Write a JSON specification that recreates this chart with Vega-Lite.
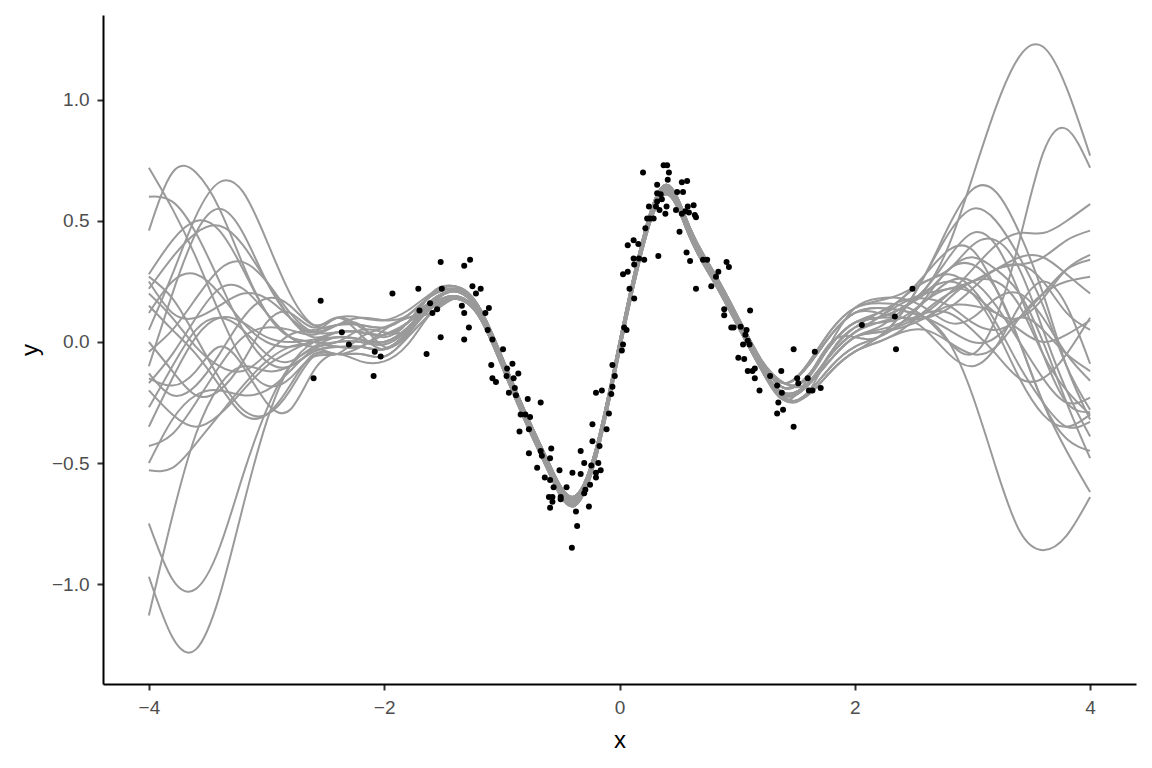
{
"$schema":"https://vega.github.io/schema/vega-lite/v6.json",
"width":1033,"height":669,
"autosize":{"type":"none"},
"padding":{"left":103,"top":15,"right":16,"bottom":84},
"background":"white",
"config":{"view":{"stroke":null},"axis":{"grid":false,"domainColor":"black","domainWidth":2,"tickColor":"#333333","tickSize":6,"tickWidth":2,"labelColor":"#4d4d4d","labelFont":"Liberation Sans","labelFontSize":19,"labelPadding":8,"titleFont":"Liberation Sans","titleFontSize":24,"titleFontWeight":"normal","titleColor":"black"}},
"datasets":{
"curves":[
{"s":1,"x":-4,"y":0.72},{"s":1,"x":-3.8,"y":0.55},{"s":1,"x":-3.6,"y":0.35},{"s":1,"x":-3.4,"y":0.12},{"s":1,"x":-3.2,"y":-0.08},{"s":1,"x":-3,"y":-0.18},{"s":1,"x":-2.8,"y":-0.15},{"s":1,"x":-2.6,"y":-0.06},{"s":1,"x":-2.4,"y":-0.05},{"s":1,"x":-2.2,"y":0.02},{"s":1,"x":-2,"y":0.06},{"s":1,"x":-1.8,"y":0.1},{"s":1,"x":-1.6,"y":0.12},{"s":1,"x":-1.4,"y":0.18},{"s":1,"x":-1.2,"y":0.12},{"s":1,"x":-1,"y":-0.07},{"s":1,"x":-0.8,"y":-0.3},{"s":1,"x":-0.6,"y":-0.51},{"s":1,"x":-0.4,"y":-0.65},{"s":1,"x":-0.2,"y":-0.45},{"s":1,"x":0,"y":-0.01},{"s":1,"x":0.2,"y":0.42},{"s":1,"x":0.4,"y":0.64},{"s":1,"x":0.6,"y":0.46},{"s":1,"x":0.8,"y":0.28},{"s":1,"x":1,"y":0.1},{"s":1,"x":1.2,"y":-0.08},{"s":1,"x":1.4,"y":-0.19},{"s":1,"x":1.6,"y":-0.14},{"s":1,"x":1.8,"y":-0.01},{"s":1,"x":2,"y":0.08},{"s":1,"x":2.2,"y":0.1},{"s":1,"x":2.4,"y":0.14},{"s":1,"x":2.6,"y":0.22},{"s":1,"x":2.8,"y":0.4},{"s":1,"x":3,"y":0.68},{"s":1,"x":3.2,"y":0.97},{"s":1,"x":3.4,"y":1.18},{"s":1,"x":3.6,"y":1.22},{"s":1,"x":3.8,"y":1.05},{"s":1,"x":4,"y":0.77},
{"s":2,"x":-4,"y":0.46},{"s":2,"x":-3.8,"y":0.7},{"s":2,"x":-3.6,"y":0.7},{"s":2,"x":-3.4,"y":0.55},{"s":2,"x":-3.2,"y":0.32},{"s":2,"x":-3,"y":0.12},{"s":2,"x":-2.8,"y":0.02},{"s":2,"x":-2.6,"y":0},{"s":2,"x":-2.4,"y":0},{"s":2,"x":-2.2,"y":0.05},{"s":2,"x":-2,"y":0.04},{"s":2,"x":-1.8,"y":0.05},{"s":2,"x":-1.6,"y":0.15},{"s":2,"x":-1.4,"y":0.19},{"s":2,"x":-1.2,"y":0.12},{"s":2,"x":-1,"y":-0.09},{"s":2,"x":-0.8,"y":-0.32},{"s":2,"x":-0.6,"y":-0.53},{"s":2,"x":-0.4,"y":-0.67},{"s":2,"x":-0.2,"y":-0.47},{"s":2,"x":0,"y":-0.03},{"s":2,"x":0.2,"y":0.4},{"s":2,"x":0.4,"y":0.62},{"s":2,"x":0.6,"y":0.44},{"s":2,"x":0.8,"y":0.26},{"s":2,"x":1,"y":0.08},{"s":2,"x":1.2,"y":-0.08},{"s":2,"x":1.4,"y":-0.17},{"s":2,"x":1.6,"y":-0.09},{"s":2,"x":1.8,"y":0.05},{"s":2,"x":2,"y":0.14},{"s":2,"x":2.2,"y":0.16},{"s":2,"x":2.4,"y":0.15},{"s":2,"x":2.6,"y":0.1},{"s":2,"x":2.8,"y":0},{"s":2,"x":3,"y":-0.05},{"s":2,"x":3.2,"y":0.1},{"s":2,"x":3.4,"y":0.42},{"s":2,"x":3.6,"y":0.78},{"s":2,"x":3.8,"y":0.88},{"s":2,"x":4,"y":0.72},
{"s":3,"x":-4,"y":0.05},{"s":3,"x":-3.8,"y":0.28},{"s":3,"x":-3.6,"y":0.52},{"s":3,"x":-3.4,"y":0.66},{"s":3,"x":-3.2,"y":0.62},{"s":3,"x":-3,"y":0.42},{"s":3,"x":-2.8,"y":0.2},{"s":3,"x":-2.6,"y":0.07},{"s":3,"x":-2.4,"y":0.07},{"s":3,"x":-2.2,"y":0.07},{"s":3,"x":-2,"y":-0.02},{"s":3,"x":-1.8,"y":0.03},{"s":3,"x":-1.6,"y":0.15},{"s":3,"x":-1.4,"y":0.22},{"s":3,"x":-1.2,"y":0.15},{"s":3,"x":-1,"y":-0.06},{"s":3,"x":-0.8,"y":-0.29},{"s":3,"x":-0.6,"y":-0.5},{"s":3,"x":-0.4,"y":-0.64},{"s":3,"x":-0.2,"y":-0.44},{"s":3,"x":0,"y":0},{"s":3,"x":0.2,"y":0.43},{"s":3,"x":0.4,"y":0.65},{"s":3,"x":0.6,"y":0.47},{"s":3,"x":0.8,"y":0.29},{"s":3,"x":1,"y":0.11},{"s":3,"x":1.2,"y":-0.07},{"s":3,"x":1.4,"y":-0.17},{"s":3,"x":1.6,"y":-0.1},{"s":3,"x":1.8,"y":0.03},{"s":3,"x":2,"y":0.12},{"s":3,"x":2.2,"y":0.14},{"s":3,"x":2.4,"y":0.13},{"s":3,"x":2.6,"y":0.1},{"s":3,"x":2.8,"y":0},{"s":3,"x":3,"y":-0.22},{"s":3,"x":3.2,"y":-0.52},{"s":3,"x":3.4,"y":-0.78},{"s":3,"x":3.6,"y":-0.86},{"s":3,"x":3.8,"y":-0.8},{"s":3,"x":4,"y":-0.64},
{"s":4,"x":-4,"y":0.6},{"s":4,"x":-3.8,"y":0.58},{"s":4,"x":-3.6,"y":0.45},{"s":4,"x":-3.4,"y":0.25},{"s":4,"x":-3.2,"y":0.05},{"s":4,"x":-3,"y":-0.08},{"s":4,"x":-2.8,"y":-0.1},{"s":4,"x":-2.6,"y":-0.04},{"s":4,"x":-2.4,"y":-0.02},{"s":4,"x":-2.2,"y":-0.02},{"s":4,"x":-2,"y":-0.03},{"s":4,"x":-1.8,"y":0.04},{"s":4,"x":-1.6,"y":0.14},{"s":4,"x":-1.4,"y":0.18},{"s":4,"x":-1.2,"y":0.11},{"s":4,"x":-1,"y":-0.1},{"s":4,"x":-0.8,"y":-0.33},{"s":4,"x":-0.6,"y":-0.54},{"s":4,"x":-0.4,"y":-0.68},{"s":4,"x":-0.2,"y":-0.48},{"s":4,"x":0,"y":-0.04},{"s":4,"x":0.2,"y":0.39},{"s":4,"x":0.4,"y":0.61},{"s":4,"x":0.6,"y":0.43},{"s":4,"x":0.8,"y":0.25},{"s":4,"x":1,"y":0.07},{"s":4,"x":1.2,"y":-0.11},{"s":4,"x":1.4,"y":-0.24},{"s":4,"x":1.6,"y":-0.15},{"s":4,"x":1.8,"y":0},{"s":4,"x":2,"y":0.02},{"s":4,"x":2.2,"y":0.02},{"s":4,"x":2.4,"y":0.12},{"s":4,"x":2.6,"y":0.28},{"s":4,"x":2.8,"y":0.48},{"s":4,"x":3,"y":0.63},{"s":4,"x":3.2,"y":0.62},{"s":4,"x":3.4,"y":0.45},{"s":4,"x":3.6,"y":0.2},{"s":4,"x":3.8,"y":-0.1},{"s":4,"x":4,"y":-0.32},
{"s":5,"x":-4,"y":-0.75},{"s":5,"x":-3.8,"y":-0.98},{"s":5,"x":-3.6,"y":-1.02},{"s":5,"x":-3.4,"y":-0.85},{"s":5,"x":-3.2,"y":-0.55},{"s":5,"x":-3,"y":-0.28},{"s":5,"x":-2.8,"y":-0.1},{"s":5,"x":-2.6,"y":-0.02},{"s":5,"x":-2.4,"y":0.02},{"s":5,"x":-2.2,"y":0.01},{"s":5,"x":-2,"y":0},{"s":5,"x":-1.8,"y":0.06},{"s":5,"x":-1.6,"y":0.16},{"s":5,"x":-1.4,"y":0.21},{"s":5,"x":-1.2,"y":0.14},{"s":5,"x":-1,"y":-0.06},{"s":5,"x":-0.8,"y":-0.29},{"s":5,"x":-0.6,"y":-0.5},{"s":5,"x":-0.4,"y":-0.64},{"s":5,"x":-0.2,"y":-0.44},{"s":5,"x":0,"y":0},{"s":5,"x":0.2,"y":0.43},{"s":5,"x":0.4,"y":0.65},{"s":5,"x":0.6,"y":0.47},{"s":5,"x":0.8,"y":0.28},{"s":5,"x":1,"y":0.1},{"s":5,"x":1.2,"y":-0.09},{"s":5,"x":1.4,"y":-0.23},{"s":5,"x":1.6,"y":-0.22},{"s":5,"x":1.8,"y":-0.12},{"s":5,"x":2,"y":-0.04},{"s":5,"x":2.2,"y":0.02},{"s":5,"x":2.4,"y":0.12},{"s":5,"x":2.6,"y":0.28},{"s":5,"x":2.8,"y":0.45},{"s":5,"x":3,"y":0.55},{"s":5,"x":3.2,"y":0.5},{"s":5,"x":3.4,"y":0.35},{"s":5,"x":3.6,"y":0.15},{"s":5,"x":3.8,"y":-0.1},{"s":5,"x":4,"y":-0.28},
{"s":6,"x":-4,"y":-0.97},{"s":6,"x":-3.8,"y":-1.22},{"s":6,"x":-3.6,"y":-1.27},{"s":6,"x":-3.4,"y":-1.05},{"s":6,"x":-3.2,"y":-0.68},{"s":6,"x":-3,"y":-0.33},{"s":6,"x":-2.8,"y":-0.1},{"s":6,"x":-2.6,"y":0},{"s":6,"x":-2.4,"y":0.04},{"s":6,"x":-2.2,"y":0.04},{"s":6,"x":-2,"y":0.03},{"s":6,"x":-1.8,"y":0.08},{"s":6,"x":-1.6,"y":0.17},{"s":6,"x":-1.4,"y":0.21},{"s":6,"x":-1.2,"y":0.13},{"s":6,"x":-1,"y":-0.08},{"s":6,"x":-0.8,"y":-0.31},{"s":6,"x":-0.6,"y":-0.52},{"s":6,"x":-0.4,"y":-0.66},{"s":6,"x":-0.2,"y":-0.46},{"s":6,"x":0,"y":-0.02},{"s":6,"x":0.2,"y":0.41},{"s":6,"x":0.4,"y":0.63},{"s":6,"x":0.6,"y":0.45},{"s":6,"x":0.8,"y":0.27},{"s":6,"x":1,"y":0.09},{"s":6,"x":1.2,"y":-0.09},{"s":6,"x":1.4,"y":-0.22},{"s":6,"x":1.6,"y":-0.18},{"s":6,"x":1.8,"y":-0.07},{"s":6,"x":2,"y":0.02},{"s":6,"x":2.2,"y":0.04},{"s":6,"x":2.4,"y":0.07},{"s":6,"x":2.6,"y":0.12},{"s":6,"x":2.8,"y":0.2},{"s":6,"x":3,"y":0.3},{"s":6,"x":3.2,"y":0.4},{"s":6,"x":3.4,"y":0.45},{"s":6,"x":3.6,"y":0.45},{"s":6,"x":3.8,"y":0.5},{"s":6,"x":4,"y":0.57},
{"s":7,"x":-4,"y":-1.13},{"s":7,"x":-3.8,"y":-0.72},{"s":7,"x":-3.6,"y":-0.38},{"s":7,"x":-3.4,"y":-0.18},{"s":7,"x":-3.2,"y":-0.1},{"s":7,"x":-3,"y":-0.12},{"s":7,"x":-2.8,"y":-0.1},{"s":7,"x":-2.6,"y":-0.04},{"s":7,"x":-2.4,"y":-0.02},{"s":7,"x":-2.2,"y":-0.02},{"s":7,"x":-2,"y":0.05},{"s":7,"x":-1.8,"y":0.1},{"s":7,"x":-1.6,"y":0.14},{"s":7,"x":-1.4,"y":0.18},{"s":7,"x":-1.2,"y":0.11},{"s":7,"x":-1,"y":-0.1},{"s":7,"x":-0.8,"y":-0.33},{"s":7,"x":-0.6,"y":-0.54},{"s":7,"x":-0.4,"y":-0.68},{"s":7,"x":-0.2,"y":-0.48},{"s":7,"x":0,"y":-0.04},{"s":7,"x":0.2,"y":0.39},{"s":7,"x":0.4,"y":0.61},{"s":7,"x":0.6,"y":0.43},{"s":7,"x":0.8,"y":0.25},{"s":7,"x":1,"y":0.07},{"s":7,"x":1.2,"y":-0.11},{"s":7,"x":1.4,"y":-0.24},{"s":7,"x":1.6,"y":-0.21},{"s":7,"x":1.8,"y":-0.1},{"s":7,"x":2,"y":-0.02},{"s":7,"x":2.2,"y":0.02},{"s":7,"x":2.4,"y":0.08},{"s":7,"x":2.6,"y":0.18},{"s":7,"x":2.8,"y":0.3},{"s":7,"x":3,"y":0.32},{"s":7,"x":3.2,"y":0.22},{"s":7,"x":3.4,"y":0},{"s":7,"x":3.6,"y":-0.25},{"s":7,"x":3.8,"y":-0.4},{"s":7,"x":4,"y":-0.45},
{"s":8,"x":-4,"y":0.27},{"s":8,"x":-3.8,"y":0.18},{"s":8,"x":-3.6,"y":0.02},{"s":8,"x":-3.4,"y":-0.15},{"s":8,"x":-3.2,"y":-0.28},{"s":8,"x":-3,"y":-0.3},{"s":8,"x":-2.8,"y":-0.2},{"s":8,"x":-2.6,"y":-0.06},{"s":8,"x":-2.4,"y":-0.05},{"s":8,"x":-2.2,"y":-0.05},{"s":8,"x":-2,"y":-0.06},{"s":8,"x":-1.8,"y":0.02},{"s":8,"x":-1.6,"y":0.12},{"s":8,"x":-1.4,"y":0.18},{"s":8,"x":-1.2,"y":0.12},{"s":8,"x":-1,"y":-0.07},{"s":8,"x":-0.8,"y":-0.3},{"s":8,"x":-0.6,"y":-0.51},{"s":8,"x":-0.4,"y":-0.65},{"s":8,"x":-0.2,"y":-0.45},{"s":8,"x":0,"y":-0.01},{"s":8,"x":0.2,"y":0.42},{"s":8,"x":0.4,"y":0.64},{"s":8,"x":0.6,"y":0.46},{"s":8,"x":0.8,"y":0.28},{"s":8,"x":1,"y":0.1},{"s":8,"x":1.2,"y":-0.08},{"s":8,"x":1.4,"y":-0.19},{"s":8,"x":1.6,"y":-0.14},{"s":8,"x":1.8,"y":-0.01},{"s":8,"x":2,"y":0.08},{"s":8,"x":2.2,"y":0.1},{"s":8,"x":2.4,"y":0.1},{"s":8,"x":2.6,"y":0.1},{"s":8,"x":2.8,"y":0.14},{"s":8,"x":3,"y":0.22},{"s":8,"x":3.2,"y":0.3},{"s":8,"x":3.4,"y":0.32},{"s":8,"x":3.6,"y":0.35},{"s":8,"x":3.8,"y":0.42},{"s":8,"x":4,"y":0.46},
{"s":9,"x":-4,"y":0.22},{"s":9,"x":-3.8,"y":0.35},{"s":9,"x":-3.6,"y":0.45},{"s":9,"x":-3.4,"y":0.48},{"s":9,"x":-3.2,"y":0.4},{"s":9,"x":-3,"y":0.25},{"s":9,"x":-2.8,"y":0.1},{"s":9,"x":-2.6,"y":0.02},{"s":9,"x":-2.4,"y":0.04},{"s":9,"x":-2.2,"y":0.04},{"s":9,"x":-2,"y":0.03},{"s":9,"x":-1.8,"y":0.08},{"s":9,"x":-1.6,"y":0.17},{"s":9,"x":-1.4,"y":0.21},{"s":9,"x":-1.2,"y":0.13},{"s":9,"x":-1,"y":-0.08},{"s":9,"x":-0.8,"y":-0.31},{"s":9,"x":-0.6,"y":-0.52},{"s":9,"x":-0.4,"y":-0.66},{"s":9,"x":-0.2,"y":-0.46},{"s":9,"x":0,"y":-0.02},{"s":9,"x":0.2,"y":0.41},{"s":9,"x":0.4,"y":0.63},{"s":9,"x":0.6,"y":0.45},{"s":9,"x":0.8,"y":0.27},{"s":9,"x":1,"y":0.09},{"s":9,"x":1.2,"y":-0.09},{"s":9,"x":1.4,"y":-0.22},{"s":9,"x":1.6,"y":-0.18},{"s":9,"x":1.8,"y":-0.07},{"s":9,"x":2,"y":0.02},{"s":9,"x":2.2,"y":0.06},{"s":9,"x":2.4,"y":0.13},{"s":9,"x":2.6,"y":0.21},{"s":9,"x":2.8,"y":0.25},{"s":9,"x":3,"y":0.2},{"s":9,"x":3.2,"y":0.05},{"s":9,"x":3.4,"y":-0.15},{"s":9,"x":3.6,"y":-0.3},{"s":9,"x":3.8,"y":-0.35},{"s":9,"x":4,"y":-0.3},
{"s":10,"x":-4,"y":0.2},{"s":10,"x":-3.8,"y":0.1},{"s":10,"x":-3.6,"y":-0.02},{"s":10,"x":-3.4,"y":-0.1},{"s":10,"x":-3.2,"y":-0.12},{"s":10,"x":-3,"y":-0.05},{"s":10,"x":-2.8,"y":0.03},{"s":10,"x":-2.6,"y":0.05},{"s":10,"x":-2.4,"y":0.07},{"s":10,"x":-2.2,"y":0.07},{"s":10,"x":-2,"y":0.06},{"s":10,"x":-1.8,"y":0.11},{"s":10,"x":-1.6,"y":0.19},{"s":10,"x":-1.4,"y":0.22},{"s":10,"x":-1.2,"y":0.15},{"s":10,"x":-1,"y":-0.06},{"s":10,"x":-0.8,"y":-0.29},{"s":10,"x":-0.6,"y":-0.5},{"s":10,"x":-0.4,"y":-0.64},{"s":10,"x":-0.2,"y":-0.44},{"s":10,"x":0,"y":0},{"s":10,"x":0.2,"y":0.43},{"s":10,"x":0.4,"y":0.65},{"s":10,"x":0.6,"y":0.47},{"s":10,"x":0.8,"y":0.29},{"s":10,"x":1,"y":0.11},{"s":10,"x":1.2,"y":-0.07},{"s":10,"x":1.4,"y":-0.17},{"s":10,"x":1.6,"y":-0.17},{"s":10,"x":1.8,"y":-0.04},{"s":10,"x":2,"y":0.06},{"s":10,"x":2.2,"y":0.12},{"s":10,"x":2.4,"y":0.17},{"s":10,"x":2.6,"y":0.18},{"s":10,"x":2.8,"y":0.15},{"s":10,"x":3,"y":0.08},{"s":10,"x":3.2,"y":0.05},{"s":10,"x":3.4,"y":0.1},{"s":10,"x":3.6,"y":0.2},{"s":10,"x":3.8,"y":0.3},{"s":10,"x":4,"y":0.34},
{"s":11,"x":-4,"y":0.12},{"s":11,"x":-3.8,"y":0.25},{"s":11,"x":-3.6,"y":0.28},{"s":11,"x":-3.4,"y":0.2},{"s":11,"x":-3.2,"y":0.08},{"s":11,"x":-3,"y":0},{"s":11,"x":-2.8,"y":-0.02},{"s":11,"x":-2.6,"y":0},{"s":11,"x":-2.4,"y":0.02},{"s":11,"x":-2.2,"y":0.01},{"s":11,"x":-2,"y":0},{"s":11,"x":-1.8,"y":0.06},{"s":11,"x":-1.6,"y":0.16},{"s":11,"x":-1.4,"y":0.21},{"s":11,"x":-1.2,"y":0.14},{"s":11,"x":-1,"y":-0.06},{"s":11,"x":-0.8,"y":-0.29},{"s":11,"x":-0.6,"y":-0.5},{"s":11,"x":-0.4,"y":-0.64},{"s":11,"x":-0.2,"y":-0.44},{"s":11,"x":0,"y":0},{"s":11,"x":0.2,"y":0.43},{"s":11,"x":0.4,"y":0.65},{"s":11,"x":0.6,"y":0.47},{"s":11,"x":0.8,"y":0.28},{"s":11,"x":1,"y":0.1},{"s":11,"x":1.2,"y":-0.09},{"s":11,"x":1.4,"y":-0.23},{"s":11,"x":1.6,"y":-0.22},{"s":11,"x":1.8,"y":-0.12},{"s":11,"x":2,"y":-0.04},{"s":11,"x":2.2,"y":0},{"s":11,"x":2.4,"y":0.04},{"s":11,"x":2.6,"y":0.05},{"s":11,"x":2.8,"y":0},{"s":11,"x":3,"y":-0.05},{"s":11,"x":3.2,"y":-0.02},{"s":11,"x":3.4,"y":0.1},{"s":11,"x":3.6,"y":0.2},{"s":11,"x":3.8,"y":0.25},{"s":11,"x":4,"y":0.27},
{"s":12,"x":-4,"y":0},{"s":12,"x":-3.8,"y":-0.12},{"s":12,"x":-3.6,"y":-0.22},{"s":12,"x":-3.4,"y":-0.2},{"s":12,"x":-3.2,"y":-0.08},{"s":12,"x":-3,"y":0.08},{"s":12,"x":-2.8,"y":0.12},{"s":12,"x":-2.6,"y":0.06},{"s":12,"x":-2.4,"y":0.1},{"s":12,"x":-2.2,"y":0.03},{"s":12,"x":-2,"y":-0.03},{"s":12,"x":-1.8,"y":0.05},{"s":12,"x":-1.6,"y":0.2},{"s":12,"x":-1.4,"y":0.23},{"s":12,"x":-1.2,"y":0.15},{"s":12,"x":-1,"y":-0.08},{"s":12,"x":-0.8,"y":-0.32},{"s":12,"x":-0.6,"y":-0.53},{"s":12,"x":-0.4,"y":-0.67},{"s":12,"x":-0.2,"y":-0.47},{"s":12,"x":0,"y":-0.03},{"s":12,"x":0.2,"y":0.4},{"s":12,"x":0.4,"y":0.62},{"s":12,"x":0.6,"y":0.44},{"s":12,"x":0.8,"y":0.26},{"s":12,"x":1,"y":0.08},{"s":12,"x":1.2,"y":-0.1},{"s":12,"x":1.4,"y":-0.21},{"s":12,"x":1.6,"y":-0.17},{"s":12,"x":1.8,"y":-0.05},{"s":12,"x":2,"y":0.04},{"s":12,"x":2.2,"y":0.1},{"s":12,"x":2.4,"y":0.18},{"s":12,"x":2.6,"y":0.25},{"s":12,"x":2.8,"y":0.3},{"s":12,"x":3,"y":0.4},{"s":12,"x":3.2,"y":0.42},{"s":12,"x":3.4,"y":0.3},{"s":12,"x":3.6,"y":0.05},{"s":12,"x":3.8,"y":-0.2},{"s":12,"x":4,"y":-0.39},
{"s":13,"x":-4,"y":-0.04},{"s":13,"x":-3.8,"y":0.05},{"s":13,"x":-3.6,"y":0.18},{"s":13,"x":-3.4,"y":0.3},{"s":13,"x":-3.2,"y":0.33},{"s":13,"x":-3,"y":0.25},{"s":13,"x":-2.8,"y":0.12},{"s":13,"x":-2.6,"y":0.04},{"s":13,"x":-2.4,"y":0.04},{"s":13,"x":-2.2,"y":0.04},{"s":13,"x":-2,"y":0.03},{"s":13,"x":-1.8,"y":0.08},{"s":13,"x":-1.6,"y":0.17},{"s":13,"x":-1.4,"y":0.21},{"s":13,"x":-1.2,"y":0.13},{"s":13,"x":-1,"y":-0.08},{"s":13,"x":-0.8,"y":-0.31},{"s":13,"x":-0.6,"y":-0.52},{"s":13,"x":-0.4,"y":-0.66},{"s":13,"x":-0.2,"y":-0.46},{"s":13,"x":0,"y":-0.02},{"s":13,"x":0.2,"y":0.41},{"s":13,"x":0.4,"y":0.63},{"s":13,"x":0.6,"y":0.45},{"s":13,"x":0.8,"y":0.27},{"s":13,"x":1,"y":0.09},{"s":13,"x":1.2,"y":-0.09},{"s":13,"x":1.4,"y":-0.22},{"s":13,"x":1.6,"y":-0.18},{"s":13,"x":1.8,"y":-0.07},{"s":13,"x":2,"y":0.02},{"s":13,"x":2.2,"y":0.04},{"s":13,"x":2.4,"y":0.06},{"s":13,"x":2.6,"y":0.1},{"s":13,"x":2.8,"y":0.15},{"s":13,"x":3,"y":0.15},{"s":13,"x":3.2,"y":0.12},{"s":13,"x":3.4,"y":0.05},{"s":13,"x":3.6,"y":0},{"s":13,"x":3.8,"y":0.03},{"s":13,"x":4,"y":0.09},
{"s":14,"x":-4,"y":-0.13},{"s":14,"x":-3.8,"y":-0.22},{"s":14,"x":-3.6,"y":-0.18},{"s":14,"x":-3.4,"y":-0.05},{"s":14,"x":-3.2,"y":0.1},{"s":14,"x":-3,"y":0.18},{"s":14,"x":-2.8,"y":0.15},{"s":14,"x":-2.6,"y":0.07},{"s":14,"x":-2.4,"y":0.1},{"s":14,"x":-2.2,"y":0.1},{"s":14,"x":-2,"y":0.09},{"s":14,"x":-1.8,"y":0.13},{"s":14,"x":-1.6,"y":0.2},{"s":14,"x":-1.4,"y":0.23},{"s":14,"x":-1.2,"y":0.15},{"s":14,"x":-1,"y":-0.08},{"s":14,"x":-0.8,"y":-0.32},{"s":14,"x":-0.6,"y":-0.53},{"s":14,"x":-0.4,"y":-0.67},{"s":14,"x":-0.2,"y":-0.47},{"s":14,"x":0,"y":-0.03},{"s":14,"x":0.2,"y":0.4},{"s":14,"x":0.4,"y":0.62},{"s":14,"x":0.6,"y":0.44},{"s":14,"x":0.8,"y":0.26},{"s":14,"x":1,"y":0.08},{"s":14,"x":1.2,"y":-0.1},{"s":14,"x":1.4,"y":-0.21},{"s":14,"x":1.6,"y":-0.17},{"s":14,"x":1.8,"y":-0.05},{"s":14,"x":2,"y":0.04},{"s":14,"x":2.2,"y":0.08},{"s":14,"x":2.4,"y":0.1},{"s":14,"x":2.6,"y":0.05},{"s":14,"x":2.8,"y":-0.05},{"s":14,"x":3,"y":-0.1},{"s":14,"x":3.2,"y":-0.02},{"s":14,"x":3.4,"y":0.15},{"s":14,"x":3.6,"y":0.25},{"s":14,"x":3.8,"y":0.15},{"s":14,"x":4,"y":-0.09},
{"s":15,"x":-4,"y":-0.17},{"s":15,"x":-3.8,"y":-0.05},{"s":15,"x":-3.6,"y":0.1},{"s":15,"x":-3.4,"y":0.22},{"s":15,"x":-3.2,"y":0.22},{"s":15,"x":-3,"y":0.12},{"s":15,"x":-2.8,"y":0.02},{"s":15,"x":-2.6,"y":-0.02},{"s":15,"x":-2.4,"y":0},{"s":15,"x":-2.2,"y":0},{"s":15,"x":-2,"y":-0.01},{"s":15,"x":-1.8,"y":0.05},{"s":15,"x":-1.6,"y":0.15},{"s":15,"x":-1.4,"y":0.19},{"s":15,"x":-1.2,"y":0.12},{"s":15,"x":-1,"y":-0.09},{"s":15,"x":-0.8,"y":-0.32},{"s":15,"x":-0.6,"y":-0.53},{"s":15,"x":-0.4,"y":-0.67},{"s":15,"x":-0.2,"y":-0.47},{"s":15,"x":0,"y":-0.03},{"s":15,"x":0.2,"y":0.4},{"s":15,"x":0.4,"y":0.62},{"s":15,"x":0.6,"y":0.44},{"s":15,"x":0.8,"y":0.26},{"s":15,"x":1,"y":0.08},{"s":15,"x":1.2,"y":-0.08},{"s":15,"x":1.4,"y":-0.17},{"s":15,"x":1.6,"y":-0.15},{"s":15,"x":1.8,"y":0},{"s":15,"x":2,"y":0.14},{"s":15,"x":2.2,"y":0.18},{"s":15,"x":2.4,"y":0.18},{"s":15,"x":2.6,"y":0.14},{"s":15,"x":2.8,"y":0.08},{"s":15,"x":3,"y":0.1},{"s":15,"x":3.2,"y":0.18},{"s":15,"x":3.4,"y":0.2},{"s":15,"x":3.6,"y":0.1},{"s":15,"x":3.8,"y":-0.05},{"s":15,"x":4,"y":-0.16},
{"s":16,"x":-4,"y":-0.2},{"s":16,"x":-3.8,"y":-0.3},{"s":16,"x":-3.6,"y":-0.35},{"s":16,"x":-3.4,"y":-0.3},{"s":16,"x":-3.2,"y":-0.2},{"s":16,"x":-3,"y":-0.1},{"s":16,"x":-2.8,"y":-0.04},{"s":16,"x":-2.6,"y":0},{"s":16,"x":-2.4,"y":-0.02},{"s":16,"x":-2.2,"y":-0.02},{"s":16,"x":-2,"y":-0.03},{"s":16,"x":-1.8,"y":0.04},{"s":16,"x":-1.6,"y":0.14},{"s":16,"x":-1.4,"y":0.18},{"s":16,"x":-1.2,"y":0.11},{"s":16,"x":-1,"y":-0.1},{"s":16,"x":-0.8,"y":-0.33},{"s":16,"x":-0.6,"y":-0.54},{"s":16,"x":-0.4,"y":-0.68},{"s":16,"x":-0.2,"y":-0.48},{"s":16,"x":0,"y":-0.04},{"s":16,"x":0.2,"y":0.39},{"s":16,"x":0.4,"y":0.61},{"s":16,"x":0.6,"y":0.43},{"s":16,"x":0.8,"y":0.25},{"s":16,"x":1,"y":0.07},{"s":16,"x":1.2,"y":-0.11},{"s":16,"x":1.4,"y":-0.24},{"s":16,"x":1.6,"y":-0.21},{"s":16,"x":1.8,"y":-0.1},{"s":16,"x":2,"y":-0.02},{"s":16,"x":2.2,"y":0.02},{"s":16,"x":2.4,"y":0.08},{"s":16,"x":2.6,"y":0.17},{"s":16,"x":2.8,"y":0.25},{"s":16,"x":3,"y":0.25},{"s":16,"x":3.2,"y":0.15},{"s":16,"x":3.4,"y":0},{"s":16,"x":3.6,"y":-0.15},{"s":16,"x":3.8,"y":-0.25},{"s":16,"x":4,"y":-0.23},
{"s":17,"x":-4,"y":-0.27},{"s":17,"x":-3.8,"y":-0.1},{"s":17,"x":-3.6,"y":0.05},{"s":17,"x":-3.4,"y":0.1},{"s":17,"x":-3.2,"y":0.05},{"s":17,"x":-3,"y":-0.05},{"s":17,"x":-2.8,"y":-0.08},{"s":17,"x":-2.6,"y":-0.03},{"s":17,"x":-2.4,"y":-0.05},{"s":17,"x":-2.2,"y":-0.02},{"s":17,"x":-2,"y":0.03},{"s":17,"x":-1.8,"y":0.08},{"s":17,"x":-1.6,"y":0.16},{"s":17,"x":-1.4,"y":0.18},{"s":17,"x":-1.2,"y":0.12},{"s":17,"x":-1,"y":-0.07},{"s":17,"x":-0.8,"y":-0.3},{"s":17,"x":-0.6,"y":-0.51},{"s":17,"x":-0.4,"y":-0.65},{"s":17,"x":-0.2,"y":-0.45},{"s":17,"x":0,"y":-0.01},{"s":17,"x":0.2,"y":0.42},{"s":17,"x":0.4,"y":0.64},{"s":17,"x":0.6,"y":0.46},{"s":17,"x":0.8,"y":0.28},{"s":17,"x":1,"y":0.1},{"s":17,"x":1.2,"y":-0.08},{"s":17,"x":1.4,"y":-0.19},{"s":17,"x":1.6,"y":-0.14},{"s":17,"x":1.8,"y":-0.01},{"s":17,"x":2,"y":0.08},{"s":17,"x":2.2,"y":0.1},{"s":17,"x":2.4,"y":0.14},{"s":17,"x":2.6,"y":0.22},{"s":17,"x":2.8,"y":0.35},{"s":17,"x":3,"y":0.45},{"s":17,"x":3.2,"y":0.4},{"s":17,"x":3.4,"y":0.2},{"s":17,"x":3.6,"y":-0.05},{"s":17,"x":3.8,"y":-0.25},{"s":17,"x":4,"y":-0.29},
{"s":18,"x":-4,"y":-0.35},{"s":18,"x":-3.8,"y":-0.15},{"s":18,"x":-3.6,"y":0.02},{"s":18,"x":-3.4,"y":0.1},{"s":18,"x":-3.2,"y":0.08},{"s":18,"x":-3,"y":0.02},{"s":18,"x":-2.8,"y":0},{"s":18,"x":-2.6,"y":0.01},{"s":18,"x":-2.4,"y":0.02},{"s":18,"x":-2.2,"y":0.01},{"s":18,"x":-2,"y":0},{"s":18,"x":-1.8,"y":0.06},{"s":18,"x":-1.6,"y":0.16},{"s":18,"x":-1.4,"y":0.21},{"s":18,"x":-1.2,"y":0.14},{"s":18,"x":-1,"y":-0.06},{"s":18,"x":-0.8,"y":-0.29},{"s":18,"x":-0.6,"y":-0.5},{"s":18,"x":-0.4,"y":-0.64},{"s":18,"x":-0.2,"y":-0.44},{"s":18,"x":0,"y":0},{"s":18,"x":0.2,"y":0.43},{"s":18,"x":0.4,"y":0.65},{"s":18,"x":0.6,"y":0.47},{"s":18,"x":0.8,"y":0.28},{"s":18,"x":1,"y":0.1},{"s":18,"x":1.2,"y":-0.09},{"s":18,"x":1.4,"y":-0.23},{"s":18,"x":1.6,"y":-0.22},{"s":18,"x":1.8,"y":-0.12},{"s":18,"x":2,"y":-0.04},{"s":18,"x":2.2,"y":0},{"s":18,"x":2.4,"y":0.05},{"s":18,"x":2.6,"y":0.13},{"s":18,"x":2.8,"y":0.2},{"s":18,"x":3,"y":0.25},{"s":18,"x":3.2,"y":0.3},{"s":18,"x":3.4,"y":0.32},{"s":18,"x":3.6,"y":0.25},{"s":18,"x":3.8,"y":0.12},{"s":18,"x":4,"y":0.05},
{"s":19,"x":-4,"y":-0.43},{"s":19,"x":-3.8,"y":-0.38},{"s":19,"x":-3.6,"y":-0.25},{"s":19,"x":-3.4,"y":-0.1},{"s":19,"x":-3.2,"y":0.02},{"s":19,"x":-3,"y":0.06},{"s":19,"x":-2.8,"y":0.05},{"s":19,"x":-2.6,"y":0.03},{"s":19,"x":-2.4,"y":0.07},{"s":19,"x":-2.2,"y":0.1},{"s":19,"x":-2,"y":0.09},{"s":19,"x":-1.8,"y":0.11},{"s":19,"x":-1.6,"y":0.19},{"s":19,"x":-1.4,"y":0.22},{"s":19,"x":-1.2,"y":0.15},{"s":19,"x":-1,"y":-0.06},{"s":19,"x":-0.8,"y":-0.29},{"s":19,"x":-0.6,"y":-0.5},{"s":19,"x":-0.4,"y":-0.64},{"s":19,"x":-0.2,"y":-0.44},{"s":19,"x":0,"y":0},{"s":19,"x":0.2,"y":0.43},{"s":19,"x":0.4,"y":0.65},{"s":19,"x":0.6,"y":0.47},{"s":19,"x":0.8,"y":0.29},{"s":19,"x":1,"y":0.11},{"s":19,"x":1.2,"y":-0.07},{"s":19,"x":1.4,"y":-0.17},{"s":19,"x":1.6,"y":-0.1},{"s":19,"x":1.8,"y":0.03},{"s":19,"x":2,"y":0.12},{"s":19,"x":2.2,"y":0.12},{"s":19,"x":2.4,"y":0.1},{"s":19,"x":2.6,"y":0.1},{"s":19,"x":2.8,"y":0.18},{"s":19,"x":3,"y":0.25},{"s":19,"x":3.2,"y":0.25},{"s":19,"x":3.4,"y":0.15},{"s":19,"x":3.6,"y":-0.05},{"s":19,"x":3.8,"y":-0.2},{"s":19,"x":4,"y":-0.3},
{"s":20,"x":-4,"y":-0.5},{"s":20,"x":-3.8,"y":-0.32},{"s":20,"x":-3.6,"y":-0.22},{"s":20,"x":-3.4,"y":-0.2},{"s":20,"x":-3.2,"y":-0.22},{"s":20,"x":-3,"y":-0.2},{"s":20,"x":-2.8,"y":-0.12},{"s":20,"x":-2.6,"y":-0.03},{"s":20,"x":-2.4,"y":0},{"s":20,"x":-2.2,"y":0},{"s":20,"x":-2,"y":-0.01},{"s":20,"x":-1.8,"y":0.05},{"s":20,"x":-1.6,"y":0.15},{"s":20,"x":-1.4,"y":0.19},{"s":20,"x":-1.2,"y":0.12},{"s":20,"x":-1,"y":-0.09},{"s":20,"x":-0.8,"y":-0.32},{"s":20,"x":-0.6,"y":-0.53},{"s":20,"x":-0.4,"y":-0.67},{"s":20,"x":-0.2,"y":-0.47},{"s":20,"x":0,"y":-0.03},{"s":20,"x":0.2,"y":0.4},{"s":20,"x":0.4,"y":0.62},{"s":20,"x":0.6,"y":0.44},{"s":20,"x":0.8,"y":0.26},{"s":20,"x":1,"y":0.08},{"s":20,"x":1.2,"y":-0.08},{"s":20,"x":1.4,"y":-0.17},{"s":20,"x":1.6,"y":-0.09},{"s":20,"x":1.8,"y":0.05},{"s":20,"x":2,"y":0.14},{"s":20,"x":2.2,"y":0.17},{"s":20,"x":2.4,"y":0.2},{"s":20,"x":2.6,"y":0.25},{"s":20,"x":2.8,"y":0.28},{"s":20,"x":3,"y":0.22},{"s":20,"x":3.2,"y":0.08},{"s":20,"x":3.4,"y":-0.1},{"s":20,"x":3.6,"y":-0.25},{"s":20,"x":3.8,"y":-0.35},{"s":20,"x":4,"y":-0.33},
{"s":21,"x":-4,"y":-0.53},{"s":21,"x":-3.8,"y":-0.52},{"s":21,"x":-3.6,"y":-0.42},{"s":21,"x":-3.4,"y":-0.3},{"s":21,"x":-3.2,"y":-0.18},{"s":21,"x":-3,"y":-0.08},{"s":21,"x":-2.8,"y":-0.02},{"s":21,"x":-2.6,"y":0},{"s":21,"x":-2.4,"y":0.04},{"s":21,"x":-2.2,"y":0.04},{"s":21,"x":-2,"y":0.03},{"s":21,"x":-1.8,"y":0.08},{"s":21,"x":-1.6,"y":0.17},{"s":21,"x":-1.4,"y":0.21},{"s":21,"x":-1.2,"y":0.13},{"s":21,"x":-1,"y":-0.08},{"s":21,"x":-0.8,"y":-0.31},{"s":21,"x":-0.6,"y":-0.52},{"s":21,"x":-0.4,"y":-0.66},{"s":21,"x":-0.2,"y":-0.46},{"s":21,"x":0,"y":-0.02},{"s":21,"x":0.2,"y":0.41},{"s":21,"x":0.4,"y":0.63},{"s":21,"x":0.6,"y":0.45},{"s":21,"x":0.8,"y":0.27},{"s":21,"x":1,"y":0.09},{"s":21,"x":1.2,"y":-0.09},{"s":21,"x":1.4,"y":-0.22},{"s":21,"x":1.6,"y":-0.18},{"s":21,"x":1.8,"y":-0.07},{"s":21,"x":2,"y":0.02},{"s":21,"x":2.2,"y":0.05},{"s":21,"x":2.4,"y":0.08},{"s":21,"x":2.6,"y":0.12},{"s":21,"x":2.8,"y":0.12},{"s":21,"x":3,"y":0.05},{"s":21,"x":3.2,"y":-0.05},{"s":21,"x":3.4,"y":-0.15},{"s":21,"x":3.6,"y":-0.15},{"s":21,"x":3.8,"y":-0.05},{"s":21,"x":4,"y":0.1},
{"s":22,"x":-4,"y":0.15},{"s":22,"x":-3.8,"y":0.05},{"s":22,"x":-3.6,"y":-0.05},{"s":22,"x":-3.4,"y":-0.18},{"s":22,"x":-3.2,"y":-0.3},{"s":22,"x":-3,"y":-0.3},{"s":22,"x":-2.8,"y":-0.18},{"s":22,"x":-2.6,"y":-0.05},{"s":22,"x":-2.4,"y":-0.05},{"s":22,"x":-2.2,"y":-0.05},{"s":22,"x":-2,"y":-0.06},{"s":22,"x":-1.8,"y":0.02},{"s":22,"x":-1.6,"y":0.12},{"s":22,"x":-1.4,"y":0.18},{"s":22,"x":-1.2,"y":0.12},{"s":22,"x":-1,"y":-0.07},{"s":22,"x":-0.8,"y":-0.3},{"s":22,"x":-0.6,"y":-0.51},{"s":22,"x":-0.4,"y":-0.65},{"s":22,"x":-0.2,"y":-0.45},{"s":22,"x":0,"y":-0.01},{"s":22,"x":0.2,"y":0.42},{"s":22,"x":0.4,"y":0.64},{"s":22,"x":0.6,"y":0.46},{"s":22,"x":0.8,"y":0.28},{"s":22,"x":1,"y":0.1},{"s":22,"x":1.2,"y":-0.08},{"s":22,"x":1.4,"y":-0.19},{"s":22,"x":1.6,"y":-0.14},{"s":22,"x":1.8,"y":-0.01},{"s":22,"x":2,"y":0.08},{"s":22,"x":2.2,"y":0.12},{"s":22,"x":2.4,"y":0.18},{"s":22,"x":2.6,"y":0.28},{"s":22,"x":2.8,"y":0.38},{"s":22,"x":3,"y":0.38},{"s":22,"x":3.2,"y":0.22},{"s":22,"x":3.4,"y":0},{"s":22,"x":3.6,"y":-0.25},{"s":22,"x":3.8,"y":-0.45},{"s":22,"x":4,"y":-0.62},
{"s":23,"x":-4,"y":0.28},{"s":23,"x":-3.8,"y":0.42},{"s":23,"x":-3.6,"y":0.5},{"s":23,"x":-3.4,"y":0.46},{"s":23,"x":-3.2,"y":0.3},{"s":23,"x":-3,"y":0.12},{"s":23,"x":-2.8,"y":0.02},{"s":23,"x":-2.6,"y":0},{"s":23,"x":-2.4,"y":-0.02},{"s":23,"x":-2.2,"y":-0.02},{"s":23,"x":-2,"y":-0.03},{"s":23,"x":-1.8,"y":0.04},{"s":23,"x":-1.6,"y":0.14},{"s":23,"x":-1.4,"y":0.18},{"s":23,"x":-1.2,"y":0.11},{"s":23,"x":-1,"y":-0.1},{"s":23,"x":-0.8,"y":-0.33},{"s":23,"x":-0.6,"y":-0.54},{"s":23,"x":-0.4,"y":-0.68},{"s":23,"x":-0.2,"y":-0.48},{"s":23,"x":0,"y":-0.04},{"s":23,"x":0.2,"y":0.39},{"s":23,"x":0.4,"y":0.61},{"s":23,"x":0.6,"y":0.43},{"s":23,"x":0.8,"y":0.25},{"s":23,"x":1,"y":0.07},{"s":23,"x":1.2,"y":-0.11},{"s":23,"x":1.4,"y":-0.24},{"s":23,"x":1.6,"y":-0.21},{"s":23,"x":1.8,"y":-0.04},{"s":23,"x":2,"y":0.06},{"s":23,"x":2.2,"y":0.08},{"s":23,"x":2.4,"y":0.1},{"s":23,"x":2.6,"y":0.17},{"s":23,"x":2.8,"y":0.22},{"s":23,"x":3,"y":0.2},{"s":23,"x":3.2,"y":0.12},{"s":23,"x":3.4,"y":0.1},{"s":23,"x":3.6,"y":0.18},{"s":23,"x":3.8,"y":0.3},{"s":23,"x":4,"y":0.36},
{"s":24,"x":-4,"y":-0.1},{"s":24,"x":-3.8,"y":0.2},{"s":24,"x":-3.6,"y":0.45},{"s":24,"x":-3.4,"y":0.55},{"s":24,"x":-3.2,"y":0.45},{"s":24,"x":-3,"y":0.25},{"s":24,"x":-2.8,"y":0.1},{"s":24,"x":-2.6,"y":0.04},{"s":24,"x":-2.4,"y":0.1},{"s":24,"x":-2.2,"y":0.06},{"s":24,"x":-2,"y":0.02},{"s":24,"x":-1.8,"y":0.08},{"s":24,"x":-1.6,"y":0.2},{"s":24,"x":-1.4,"y":0.23},{"s":24,"x":-1.2,"y":0.15},{"s":24,"x":-1,"y":-0.08},{"s":24,"x":-0.8,"y":-0.32},{"s":24,"x":-0.6,"y":-0.53},{"s":24,"x":-0.4,"y":-0.67},{"s":24,"x":-0.2,"y":-0.47},{"s":24,"x":0,"y":-0.03},{"s":24,"x":0.2,"y":0.4},{"s":24,"x":0.4,"y":0.62},{"s":24,"x":0.6,"y":0.44},{"s":24,"x":0.8,"y":0.26},{"s":24,"x":1,"y":0.08},{"s":24,"x":1.2,"y":-0.1},{"s":24,"x":1.4,"y":-0.21},{"s":24,"x":1.6,"y":-0.17},{"s":24,"x":1.8,"y":-0.05},{"s":24,"x":2,"y":0.04},{"s":24,"x":2.2,"y":0.1},{"s":24,"x":2.4,"y":0.16},{"s":24,"x":2.6,"y":0.2},{"s":24,"x":2.8,"y":0.22},{"s":24,"x":3,"y":0.25},{"s":24,"x":3.2,"y":0.3},{"s":24,"x":3.4,"y":0.35},{"s":24,"x":3.6,"y":0.35},{"s":24,"x":3.8,"y":0.28},{"s":24,"x":4,"y":0.2},
{"s":25,"x":-4,"y":0.25},{"s":25,"x":-3.8,"y":0.12},{"s":25,"x":-3.6,"y":0.1},{"s":25,"x":-3.4,"y":0.15},{"s":25,"x":-3.2,"y":0.2},{"s":25,"x":-3,"y":0.18},{"s":25,"x":-2.8,"y":0.1},{"s":25,"x":-2.6,"y":0.04},{"s":25,"x":-2.4,"y":0.07},{"s":25,"x":-2.2,"y":0.07},{"s":25,"x":-2,"y":0.06},{"s":25,"x":-1.8,"y":0.11},{"s":25,"x":-1.6,"y":0.19},{"s":25,"x":-1.4,"y":0.22},{"s":25,"x":-1.2,"y":0.15},{"s":25,"x":-1,"y":-0.06},{"s":25,"x":-0.8,"y":-0.29},{"s":25,"x":-0.6,"y":-0.5},{"s":25,"x":-0.4,"y":-0.64},{"s":25,"x":-0.2,"y":-0.44},{"s":25,"x":0,"y":0},{"s":25,"x":0.2,"y":0.43},{"s":25,"x":0.4,"y":0.65},{"s":25,"x":0.6,"y":0.47},{"s":25,"x":0.8,"y":0.29},{"s":25,"x":1,"y":0.11},{"s":25,"x":1.2,"y":-0.07},{"s":25,"x":1.4,"y":-0.17},{"s":25,"x":1.6,"y":-0.1},{"s":25,"x":1.8,"y":0.03},{"s":25,"x":2,"y":0.12},{"s":25,"x":2.2,"y":0.14},{"s":25,"x":2.4,"y":0.13},{"s":25,"x":2.6,"y":0.1},{"s":25,"x":2.8,"y":0.05},{"s":25,"x":3,"y":0},{"s":25,"x":3.2,"y":0.02},{"s":25,"x":3.4,"y":0.1},{"s":25,"x":3.6,"y":0.05},{"s":25,"x":3.8,"y":-0.05},{"s":25,"x":4,"y":-0.12},
{"s":26,"x":-4,"y":-0.15},{"s":26,"x":-3.8,"y":-0.18},{"s":26,"x":-3.6,"y":-0.12},{"s":26,"x":-3.4,"y":-0.02},{"s":26,"x":-3.2,"y":-0.1},{"s":26,"x":-3,"y":-0.25},{"s":26,"x":-2.8,"y":-0.28},{"s":26,"x":-2.6,"y":-0.12},{"s":26,"x":-2.4,"y":-0.05},{"s":26,"x":-2.2,"y":-0.08},{"s":26,"x":-2,"y":-0.08},{"s":26,"x":-1.8,"y":-0.01},{"s":26,"x":-1.6,"y":0.12},{"s":26,"x":-1.4,"y":0.18},{"s":26,"x":-1.2,"y":0.12},{"s":26,"x":-1,"y":-0.07},{"s":26,"x":-0.8,"y":-0.3},{"s":26,"x":-0.6,"y":-0.51},{"s":26,"x":-0.4,"y":-0.65},{"s":26,"x":-0.2,"y":-0.45},{"s":26,"x":0,"y":-0.01},{"s":26,"x":0.2,"y":0.42},{"s":26,"x":0.4,"y":0.64},{"s":26,"x":0.6,"y":0.46},{"s":26,"x":0.8,"y":0.28},{"s":26,"x":1,"y":0.1},{"s":26,"x":1.2,"y":-0.08},{"s":26,"x":1.4,"y":-0.19},{"s":26,"x":1.6,"y":-0.14},{"s":26,"x":1.8,"y":-0.01},{"s":26,"x":2,"y":0.08},{"s":26,"x":2.2,"y":0.1},{"s":26,"x":2.4,"y":0.14},{"s":26,"x":2.6,"y":0.2},{"s":26,"x":2.8,"y":0.3},{"s":26,"x":3,"y":0.35},{"s":26,"x":3.2,"y":0.3},{"s":26,"x":3.4,"y":0.2},{"s":26,"x":3.6,"y":0},{"s":26,"x":3.8,"y":-0.25},{"s":26,"x":4,"y":-0.48}
],
"pts":[
{"x":-2.54,"y":0.17},{"x":-1.93,"y":0.2},{"x":-2.36,"y":0.04},{"x":-2.3,"y":-0.01},{"x":-2.08,"y":-0.04},{"x":-2.03,"y":-0.06},{"x":-2.6,"y":-0.15},{"x":-2.09,"y":-0.14},
{"x":-1.52,"y":0.33},{"x":-1.71,"y":0.22},{"x":-1.7,"y":0.13},{"x":-1.61,"y":0.16},{"x":-1.55,"y":0.135},{"x":-1.59,"y":0.12},{"x":-1.51,"y":0.22},{"x":-1.52,"y":0.02},{"x":-1.64,"y":-0.05},
{"x":-1.32,"y":0.315},{"x":-1.27,"y":0.34},{"x":-1.34,"y":0.15},{"x":-1.32,"y":0.12},{"x":-1.32,"y":0.01},{"x":-1.25,"y":0.23},{"x":-1.22,"y":0.2},{"x":-1.18,"y":0.22},{"x":-1.28,"y":0.06},{"x":-1.14,"y":0.12},{"x":-1.11,"y":0.14},{"x":-1.12,"y":0.05},{"x":-1.08,"y":0.01},
{"x":-0.99,"y":-0.03},{"x":-1.09,"y":-0.095},{"x":-0.955,"y":-0.11},{"x":-0.91,"y":-0.09},{"x":-1.08,"y":-0.15},{"x":-1.05,"y":-0.165},{"x":-0.96,"y":-0.14},{"x":-0.9,"y":-0.15},{"x":-0.86,"y":-0.13},{"x":-0.89,"y":-0.19},{"x":-0.94,"y":-0.21},{"x":-0.88,"y":-0.22},{"x":-0.78,"y":-0.235},{"x":-0.67,"y":-0.25},
{"x":-0.84,"y":-0.3},{"x":-0.8,"y":-0.3},{"x":-0.76,"y":-0.31},{"x":-0.85,"y":-0.37},{"x":-0.77,"y":-0.36},{"x":-0.77,"y":-0.46},{"x":-0.67,"y":-0.45},{"x":-0.66,"y":-0.47},{"x":-0.58,"y":-0.44},{"x":-0.59,"y":-0.48},{"x":-0.7,"y":-0.52},{"x":-0.635,"y":-0.56},{"x":-0.51,"y":-0.53},{"x":-0.59,"y":-0.57},{"x":-0.56,"y":-0.6},{"x":-0.6,"y":-0.64},{"x":-0.57,"y":-0.64},{"x":-0.5,"y":-0.64},{"x":-0.57,"y":-0.66},{"x":-0.59,"y":-0.685},{"x":-0.5,"y":-0.65},{"x":-0.45,"y":-0.6},
{"x":-0.4,"y":-0.54},{"x":-0.33,"y":-0.545},{"x":-0.33,"y":-0.45},{"x":-0.3,"y":-0.5},{"x":-0.37,"y":-0.7},{"x":-0.36,"y":-0.76},{"x":-0.405,"y":-0.85},{"x":-0.26,"y":-0.68},{"x":-0.29,"y":-0.61},{"x":-0.3,"y":-0.625},{"x":-0.25,"y":-0.59},{"x":-0.24,"y":-0.51},{"x":-0.2,"y":-0.54},{"x":-0.2,"y":-0.56},{"x":-0.18,"y":-0.5},{"x":-0.16,"y":-0.53},{"x":-0.23,"y":-0.41},{"x":-0.23,"y":-0.34},{"x":-0.17,"y":-0.43},{"x":-0.11,"y":-0.36},{"x":-0.09,"y":-0.295},{"x":-0.2,"y":-0.21},{"x":-0.15,"y":-0.2},{"x":-0.07,"y":-0.215},{"x":-0.06,"y":-0.185},{"x":-0.04,"y":-0.14},{"x":-0.06,"y":-0.095},
{"x":0.02,"y":-0.035},{"x":0.03,"y":-0.01},{"x":0.04,"y":0.06},{"x":0.06,"y":0.05},{"x":0.085,"y":0.22},{"x":0.03,"y":0.28},{"x":0.07,"y":0.29},{"x":0.07,"y":0.4},{"x":0.125,"y":0.18},{"x":0.125,"y":0.32},{"x":0.12,"y":0.345},{"x":0.165,"y":0.345},{"x":0.21,"y":0.34},{"x":0.12,"y":0.42},{"x":0.16,"y":0.405},{"x":0.33,"y":0.355},{"x":0.22,"y":0.47},{"x":0.235,"y":0.51},{"x":0.26,"y":0.51},{"x":0.29,"y":0.51},{"x":0.25,"y":0.56},{"x":0.32,"y":0.58},{"x":0.31,"y":0.56},{"x":0.34,"y":0.545},{"x":0.39,"y":0.53},{"x":0.4,"y":0.56},{"x":0.32,"y":0.65},{"x":0.2,"y":0.7},{"x":0.375,"y":0.73},{"x":0.405,"y":0.73},{"x":0.42,"y":0.7},{"x":0.41,"y":0.67},{"x":0.32,"y":0.615},{"x":0.35,"y":0.61},{"x":0.36,"y":0.59},
{"x":0.48,"y":0.545},{"x":0.49,"y":0.62},{"x":0.54,"y":0.62},{"x":0.53,"y":0.66},{"x":0.575,"y":0.665},{"x":0.58,"y":0.56},{"x":0.63,"y":0.565},{"x":0.53,"y":0.53},{"x":0.56,"y":0.54},{"x":0.59,"y":0.535},{"x":0.64,"y":0.525},{"x":0.65,"y":0.515},{"x":0.51,"y":0.455},{"x":0.57,"y":0.37},{"x":0.6,"y":0.335},{"x":0.65,"y":0.22},{"x":0.71,"y":0.34},{"x":0.745,"y":0.34},{"x":0.84,"y":0.29},{"x":0.82,"y":0.27},{"x":0.78,"y":0.23},{"x":0.91,"y":0.33},{"x":0.93,"y":0.31},
{"x":0.89,"y":0.135},{"x":0.89,"y":0.11},{"x":0.95,"y":0.06},{"x":0.97,"y":0.06},{"x":1.03,"y":0.063},{"x":1.08,"y":0.05},{"x":1.11,"y":0.13},{"x":1.07,"y":0.03},{"x":1.05,"y":-0.01},{"x":1.09,"y":0.005},{"x":1.105,"y":-0.01},{"x":1.01,"y":-0.065},{"x":1.06,"y":-0.07},{"x":1.09,"y":-0.12},{"x":1.13,"y":-0.12},{"x":1.15,"y":-0.11},{"x":1.15,"y":-0.15},{"x":1.19,"y":-0.2},{"x":1.28,"y":-0.14},{"x":1.375,"y":-0.12},{"x":1.34,"y":-0.18},{"x":1.38,"y":-0.21},{"x":1.35,"y":-0.25},{"x":1.39,"y":-0.28},{"x":1.34,"y":-0.295},{"x":1.48,"y":-0.35},{"x":1.48,"y":-0.03},{"x":1.51,"y":-0.15},{"x":1.52,"y":-0.17},{"x":1.6,"y":-0.15},{"x":1.66,"y":-0.04},{"x":1.61,"y":-0.2},{"x":1.64,"y":-0.2},{"x":1.71,"y":-0.19},
{"x":2.49,"y":0.22},{"x":2.34,"y":0.105},{"x":2.06,"y":0.07},{"x":2.35,"y":-0.03}
]
},
"layer":[
{"data":{"name":"curves"},
 "mark":{"type":"line","interpolate":"natural","color":"#9a9a9a","strokeWidth":2},
 "encoding":{
  "x":{"field":"x","type":"quantitative","scale":{"domain":[-4.39,4.39],"nice":false,"zero":false},"axis":{"values":[-4,-2,0,2,4],"format":"d","title":"x","titlePadding":11}},
  "y":{"field":"y","type":"quantitative","scale":{"domain":[-1.413,1.351],"nice":false,"zero":false},"axis":{"values":[-1,-0.5,0,0.5,1],"format":".1f","title":"y","titlePadding":9}},
  "detail":{"field":"s","type":"nominal"}
 }},
{"data":{"name":"pts"},
 "mark":{"type":"circle","color":"black","size":36,"opacity":1},
 "encoding":{
  "x":{"field":"x","type":"quantitative"},
  "y":{"field":"y","type":"quantitative"}
 }}
]
}
